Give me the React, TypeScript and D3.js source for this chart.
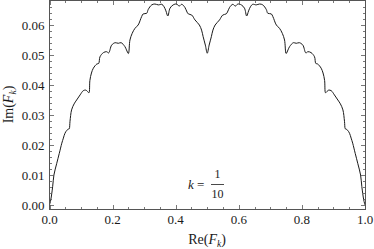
import React from "react";
import * as d3 from "d3";

// points (Re(F_k), Im(F_k)), k = 1/10
const reVals = [
  0, 0.004, 0.01, 0.014, 0.023, 0.031, 0.039, 0.044, 0.049, 0.055, 0.06, 0.0625, 0.065, 0.07, 0.078, 0.086,
  0.097, 0.107, 0.115, 0.12, 0.125, 0.128, 0.133, 0.139, 0.15, 0.156, 0.16, 0.171, 0.181, 0.1875, 0.197,
  0.208, 0.218, 0.227, 0.239, 0.244, 0.25, 0.255, 0.262, 0.271, 0.281, 0.292, 0.297, 0.308, 0.313, 0.324,
  0.334, 0.345, 0.356, 0.363, 0.369, 0.375, 0.382, 0.392, 0.403, 0.411, 0.419, 0.429, 0.436, 0.44, 0.451,
  0.461, 0.475, 0.482, 0.487, 0.494, 0.5,
  0.506, 0.513, 0.518, 0.525, 0.539, 0.549, 0.56, 0.564, 0.571, 0.581, 0.589, 0.597, 0.608, 0.618, 0.625,
  0.631, 0.637, 0.644, 0.655, 0.666, 0.676, 0.687, 0.692, 0.703, 0.708, 0.719, 0.729, 0.738, 0.745, 0.75,
  0.756, 0.761, 0.773, 0.782, 0.792, 0.803, 0.8125, 0.819, 0.829, 0.84, 0.844, 0.85, 0.861, 0.867, 0.872,
  0.875, 0.88, 0.885, 0.893, 0.903, 0.914, 0.922, 0.93, 0.935, 0.9375, 0.94, 0.945, 0.951, 0.956, 0.961,
  0.969, 0.977, 0.986, 0.99, 0.996, 1,
];
const imVals = [
  0, 0.0017, 0.0061, 0.01, 0.0139, 0.0172, 0.0206, 0.0223, 0.0239, 0.0249, 0.0253, 0.0254, 0.0279, 0.0317, 0.0337, 0.035,
  0.0367, 0.0381, 0.0383, 0.0379, 0.0374, 0.0415, 0.044, 0.0456, 0.047, 0.0472, 0.0494, 0.0508, 0.0511, 0.0507, 0.0533,
  0.0541, 0.0539, 0.0541, 0.0528, 0.0517, 0.0505, 0.055, 0.0572, 0.0589, 0.06, 0.0628, 0.0637, 0.0639, 0.0652, 0.0667,
  0.067, 0.0667, 0.0669, 0.0661, 0.0647, 0.063, 0.0656, 0.0667, 0.067, 0.0663, 0.0669, 0.0659, 0.0643, 0.0637, 0.0633,
  0.0617, 0.06, 0.0583, 0.0561, 0.0533, 0.0506,
  0.0533, 0.0561, 0.0583, 0.06, 0.0617, 0.0633, 0.0637, 0.0643, 0.0659, 0.0669, 0.0663, 0.067, 0.0667, 0.0656, 0.063,
  0.0647, 0.0661, 0.0669, 0.0667, 0.067, 0.0667, 0.0652, 0.0639, 0.0637, 0.0628, 0.06, 0.0589, 0.0572, 0.055, 0.0505,
  0.0517, 0.0528, 0.0541, 0.0539, 0.0541, 0.0533, 0.0507, 0.0511, 0.0508, 0.0494, 0.0472, 0.047, 0.0456, 0.044, 0.0415,
  0.0374, 0.0379, 0.0383, 0.0381, 0.0367, 0.035, 0.0337, 0.0317, 0.0279, 0.0254, 0.0253, 0.0249, 0.0239, 0.0223, 0.0206,
  0.0172, 0.0139, 0.01, 0.0061, 0.0017, 0,
];

const xTicks = [0, 0.2, 0.4, 0.6, 0.8, 1.0];
const xTickLabels = ["0.0", "0.2", "0.4", "0.6", "0.8", "1.0"];
const yTicks = [0, 0.01, 0.02, 0.03, 0.04, 0.05, 0.06];
const yTickLabels = ["0.00", "0.01", "0.02", "0.03", "0.04", "0.05", "0.06"];

export default function App() {
  const left = 49.5, right = 365.5, top = 0.5, bottom = 209.5;
  const x = d3.scaleLinear().domain([0, 1]).range([49.5, 365]);
  const y = d3.scaleLinear().domain([0, 0.06]).range([205, 25]);

  const pts: [number, number][] = reVals.map((r, i) => [r, imVals[i]]);
  const path =
    d3
      .line<[number, number]>()
      .x(d => x(d[0]))
      .y(d => y(d[1]))
      .curve(d3.curveCatmullRom.alpha(0.5))(pts) || "";

  const xMinor = d3.range(0, 1.0001, 0.05);
  const yMinor = d3.range(0, 0.0681, 0.002).filter(v => y(v) > top + 1);
  const frame = "#555";
  const txt = "#1a1a1a";

  return (
    <div style={{ position: "absolute", left: 0, top: 0 }}>
      <svg
        width={374}
        height={249}
        style={{ display: "block", background: "#fff", fontFamily: "'Liberation Serif', 'Times New Roman', Times, serif" }}
      >
        <path d={path} fill="none" stroke="#1a1a1a" strokeWidth={1} />

        {/* frame */}
        <rect x={left} y={top} width={right - left} height={bottom - top} fill="none" stroke={frame} strokeWidth={1} />

        {/* x ticks, bottom and top */}
        {xMinor.map((v, i) => {
          const major = Math.abs(v * 5 - Math.round(v * 5)) < 1e-6;
          const len = major ? 4.5 : 2.5;
          const px = Math.round(x(v)) + 0.5;
          return (
            <g key={"xt" + i} stroke={frame} strokeWidth={0.8}>
              <line x1={px} x2={px} y1={bottom} y2={bottom - len} />
              <line x1={px} x2={px} y1={top} y2={top + len} />
            </g>
          );
        })}
        {/* y ticks, left and right */}
        {yMinor.map((v, i) => {
          const major = Math.abs(v * 100 - Math.round(v * 100)) < 1e-6;
          const len = major ? 4.5 : 2.5;
          const py = Math.round(y(v)) + 0.5;
          return (
            <g key={"yt" + i} stroke={frame} strokeWidth={0.8}>
              <line x1={left} x2={left + len} y1={py} y2={py} />
              <line x1={right} x2={right - len} y1={py} y2={py} />
            </g>
          );
        })}

        {xTicks.map((v, i) => (
          <text key={"xl" + i} x={x(v)} y={224} textAnchor="middle" fontSize={13} fill={txt}>
            {xTickLabels[i]}
          </text>
        ))}
        {yTicks.map((v, i) => (
          <text key={"yl" + i} x={44.5} y={y(v) + 4.5} textAnchor="end" fontSize={13} fill={txt}>
            {yTickLabels[i]}
          </text>
        ))}

        {/* axis titles */}
        <text x={207} y={244} textAnchor="middle" fontSize={14} fill={txt}>
          Re(<tspan fontStyle="italic">F</tspan>
          <tspan fontStyle="italic" fontSize={9.5} dy={3}>k</tspan>
          <tspan dy={-3}>)</tspan>
        </text>
        <text transform="translate(13,104.5) rotate(-90)" textAnchor="middle" fontSize={14} fill={txt}>
          Im(<tspan fontStyle="italic">F</tspan>
          <tspan fontStyle="italic" fontSize={9.5} dy={3}>k</tspan>
          <tspan dy={-3}>)</tspan>
        </text>

        {/* k = 1/10 */}
        <text x={188} y={189} fontSize={13} fill={txt}>
          <tspan fontStyle="italic">k</tspan> =
        </text>
        <text x={217.5} y={178} textAnchor="middle" fontSize={12} fill={txt}>1</text>
        <line x1={211} x2={224} y1={184.5} y2={184.5} stroke={txt} strokeWidth={0.8} />
        <text x={217.5} y={198} textAnchor="middle" fontSize={12} fill={txt}>10</text>
      </svg>
    </div>
  );
}
